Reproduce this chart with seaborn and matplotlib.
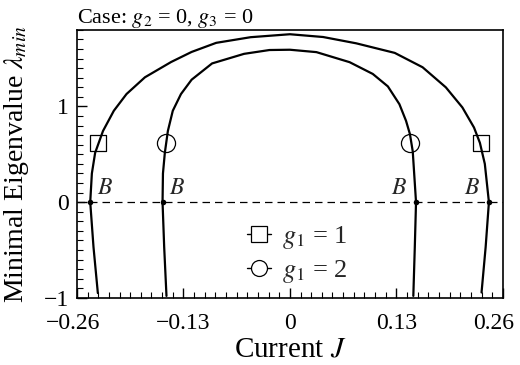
import matplotlib
matplotlib.use("Agg")
import matplotlib.pyplot as plt
import matplotlib.transforms as mtransforms
from matplotlib.lines import Line2D
from matplotlib.ticker import MultipleLocator, FixedLocator
import pandas as pd
import seaborn as sns

# Minimal eigenvalue vs. current, traced along each closed branch
outer_J = [-0.2345, -0.2398, -0.2438, -0.2418, -0.2378, -0.2282, -0.2150,
           -0.1995, -0.1770, -0.1450, -0.1200, -0.0900, -0.0480, 0.0,
           0.0405, 0.0810, 0.1280, 0.1620, 0.1904, 0.2106, 0.2248, 0.2320,
           0.2380, 0.2430, 0.2390, 0.2340]
outer_L = [-0.95, -0.47, 0.0, 0.30, 0.516, 0.744, 0.955,
           1.13, 1.305, 1.465, 1.57, 1.665, 1.724, 1.755,
           1.726, 1.66, 1.56, 1.41, 1.20, 0.99, 0.78, 0.62,
           0.40, 0.0, -0.47, -0.944]

inner_J = [-0.1507, -0.1535, -0.1555, -0.1550, -0.1527, -0.1490, -0.1430,
           -0.1330, -0.1200, -0.0950, -0.0560, -0.0250, 0.0,
           0.0324, 0.0729, 0.1012, 0.1196, 0.1337, 0.1418, 0.1466, 0.1500,
           0.1540, 0.1525, 0.1507]
inner_L = [-0.98, -0.47, 0.0, 0.30, 0.516, 0.744, 0.955,
           1.13, 1.28, 1.45, 1.55, 1.59, 1.593,
           1.568, 1.463, 1.34, 1.21, 1.024, 0.85, 0.71, 0.53,
           0.0, -0.47, -0.98]

# Marker positions for each family
marker_L = 0.62
square_J = [-0.2345, 0.2330]
circle_J = [-0.1515, 0.1466]

# Bifurcation points B on the zero line
B_J = [-0.2438, -0.1555, 0.1540, 0.2430]

x_ticks = [-0.26, -0.13, 0, 0.13, 0.26]
x_labels = ["\u22120.26", "\u22120.13", "0", "0.13", "0.26"]
y_ticks = [-1, 0, 1]
y_labels = ["\u22121", "0", "1"]

sns.set_theme(style="white")
plt.rcParams["font.family"] = ["Liberation Serif", "DejaVu Serif"]
plt.rcParams["mathtext.fontset"] = "stix"

fig = plt.figure(figsize=(5.2, 3.65), dpi=100)
ax = fig.add_axes([0.148, 0.184, 0.819, 0.734])

outer = pd.DataFrame({"J": outer_J, "L": outer_L})
inner = pd.DataFrame({"J": inner_J, "L": inner_L})

ax.axhline(0, color="black", lw=0.9, ls=(0, (6, 4)), zorder=1)

sns.scatterplot(x=square_J, y=[marker_L] * len(square_J), marker="s", s=135,
                facecolor="white", edgecolor="black", linewidth=0.9, ax=ax, zorder=3)
sns.scatterplot(x=circle_J, y=[marker_L] * len(circle_J), marker="o", s=170,
                facecolor="white", edgecolor="black", linewidth=0.9, ax=ax, zorder=3)
# curves pass over the open markers
for df in (outer, inner):
    sns.lineplot(data=df, x="J", y="L", sort=False, estimator=None,
                 color="black", lw=1.6, ax=ax, zorder=4)

sns.scatterplot(x=B_J, y=[0] * len(B_J), color="black", s=16, linewidth=0, ax=ax, zorder=5)
for j in B_J:
    if j < 0:
        ax.text(j + 0.008, 0.03, "$B$", fontsize=17, ha="left", va="bottom")
    else:
        ax.text(j - 0.011, 0.03, "$B$", fontsize=17, ha="right", va="bottom")

ax.set_xlim(-0.26, 0.26)
ax.set_ylim(-1, 1.8)
ax.xaxis.set_major_locator(FixedLocator(x_ticks))
ax.set_xticklabels(x_labels)
ax.xaxis.set_minor_locator(MultipleLocator(0.013))
ax.yaxis.set_major_locator(FixedLocator(y_ticks))
ax.set_yticklabels(y_labels)
ax.yaxis.set_minor_locator(MultipleLocator(0.1))
ax.tick_params(which="both", direction="in", bottom=True, left=True,
               top=False, right=False, colors="black", labelsize=17)
ax.tick_params(axis="x", which="major", pad=11)
ax.tick_params(axis="y", which="major", pad=6)
ax.tick_params(which="major", length=7, width=1)
ax.tick_params(which="minor", length=4, width=0.8)
for sp in ax.spines.values():
    sp.set_color("black")
    sp.set_linewidth(1.2)

# keep the end labels inside the canvas
xlabels = ax.get_xticklabels()
xlabels[0].set_transform(xlabels[0].get_transform() +
                         mtransforms.ScaledTranslation(-4 / 100, 0, fig.dpi_scale_trans))
xlabels[-1].set_transform(xlabels[-1].get_transform() +
                          mtransforms.ScaledTranslation(-9 / 100, 0, fig.dpi_scale_trans))

ax.set_xlabel("Current $J$", fontsize=21, labelpad=2, color="black")
ax.set_ylabel("Minimal Eigenvalue $\\lambda_{min}$", fontsize=20, labelpad=9, color="black")
ax.set_title("Case: $g_2$ = 0, $g_3$ = 0", loc="left", fontsize=16, pad=3, color="black")

handles = [
    Line2D([], [], color="black", lw=1.0, marker="s", markersize=11,
           markerfacecolor="white", markeredgecolor="black", markeredgewidth=0.9),
    Line2D([], [], color="black", lw=1.0, marker="o", markersize=11.5,
           markerfacecolor="white", markeredgecolor="black", markeredgewidth=0.9),
]
ax.legend(handles, ["$g_1$ = 1", "$g_1$ = 2"], loc="center left",
          bbox_to_anchor=(0.399, 0.162), frameon=False, fontsize=19,
          borderpad=0, borderaxespad=0,
          handlelength=0.9, handletextpad=0.42, labelspacing=0.25)

fig.savefig("out.png", dpi=100)
